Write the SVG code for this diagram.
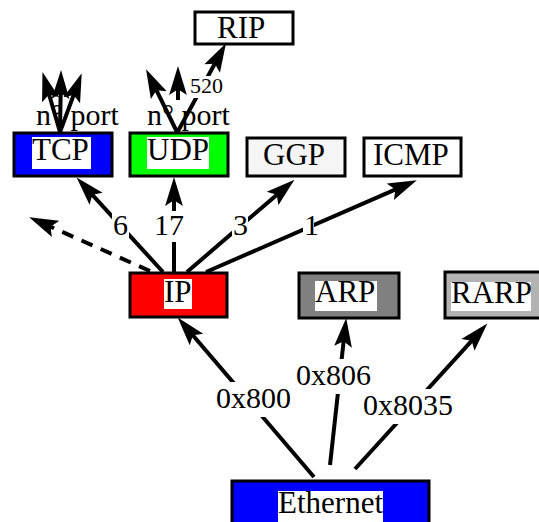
<svg xmlns="http://www.w3.org/2000/svg" width="539" height="522" viewBox="0 0 539 522">
<defs>
<style>
.box{stroke:#000;stroke-width:3}
.tbg{fill:#fff}
.nl{font-family:"Liberation Serif","Times New Roman",serif;font-size:31px;fill:#000}
.el{font-family:"Liberation Serif","Times New Roman",serif;font-size:30px;fill:#000}
.e{stroke:#000;stroke-width:4;fill:none;marker-end:url(#ah)}
.d{stroke-dasharray:12 9}
</style>
<marker id="ah" markerUnits="userSpaceOnUse" markerWidth="30" markerHeight="20" viewBox="0 -9 27 18" refX="8" refY="0" orient="auto">
<path d="M0,-8 L26,0 L0,8 L5,0 z" fill="#000"/>
</marker>
</defs>
<rect width="539" height="522" fill="#fff"/>
<g id="RIP"><rect class="box" x="195" y="12" width="98" height="32" fill="#fff"/><text class="nl" x="217" y="38">RIP</text></g>
<g id="TCP"><rect class="box" x="14" y="133" width="98" height="43" fill="#0000ff"/><rect class="tbg" x="32" y="137" width="59" height="32"/><text class="nl" x="32" y="160">TCP</text></g>
<g id="UDP"><rect class="box" x="130" y="133" width="98" height="43" fill="#00ff00"/><rect class="tbg" x="147" y="137" width="62" height="32"/><text class="nl" x="147" y="160">UDP</text></g>
<g id="GGP"><rect class="box" x="247" y="138" width="98" height="38" fill="#f5f5f5"/><text class="nl" x="263" y="165">GGP</text></g>
<g id="ICMP"><rect class="box" x="364" y="138" width="97" height="38" fill="#fff"/><text class="nl" x="373" y="165">ICMP</text></g>
<g id="IP"><rect class="box" x="130" y="273" width="97" height="44" fill="#ff0000"/><rect class="tbg" x="164" y="279" width="28" height="30"/><text class="nl" x="164" y="302">IP</text></g>
<g id="ARP"><rect class="box" x="299" y="273" width="100" height="45" fill="#808080"/><rect class="tbg" x="315" y="281" width="62" height="30"/><text class="nl" x="315" y="302">ARP</text></g>
<g id="RARP"><rect class="box" x="445" y="272" width="100" height="46" fill="#b3b3b3"/><rect class="tbg" x="451" y="282" width="80" height="29"/><text class="nl" x="451" y="303">RARP</text></g>
<g id="Ethernet"><rect class="box" x="232" y="481" width="197" height="50" fill="#0000ff"/><rect class="tbg" x="278" y="491" width="105" height="40"/><text class="nl" x="278" y="513">Ethernet</text></g>
<g id="connectors">
<path class="e" d="M163,272 L90.1,192.3"/>
<path class="e" d="M174,272 L174,197"/>
<path class="e" d="M187,272 L279.3,192.7"/>
<path class="e" d="M206,272 L398.5,188.2"/>
<path class="e d" d="M150,271 L47.4,225.3"/>
<path class="e" d="M314,477 L190.7,332.7"/>
<path class="e" d="M330,465 L344,337.9"/>
<path class="e" d="M355,469 L473.9,338.3"/>
<rect class="tbg" x="112" y="211" width="17" height="31"/><text class="el" x="113" y="235">6</text>
<rect class="tbg" x="153" y="211" width="30" height="31"/><text class="el" x="154" y="235">17</text>
<rect class="tbg" x="232" y="211" width="16" height="31"/><text class="el" x="233" y="235">3</text>
<rect class="tbg" x="303" y="211" width="11" height="31"/><text class="el" x="304" y="235">1</text>
<rect class="tbg" x="215" y="382" width="78" height="35"/><text class="el" x="216" y="408">0x800</text>
<rect class="tbg" x="295" y="359" width="78" height="35"/><text class="el" x="296" y="385">0x806</text>
<rect class="tbg" x="362" y="389" width="92" height="35"/><text class="el" x="363" y="415">0x8035</text>
<text class="el" x="36" y="125">n° port</text>
<path class="e" d="M60,132 L48.1,91.3"/>
<path class="e" d="M60,132 L60.7,90"/>
<path class="e" d="M60,132 L74.8,91.9"/>
<path class="e" d="M178,100 L178,86"/>
<rect class="tbg" x="146" y="100" width="86" height="31"/><text class="el" x="147" y="125">n° port</text>
<path class="e" d="M177,132 L154.9,87.2"/>
<path class="e" d="M177,133 L216.4,60.8"/>
<rect class="tbg" x="189" y="76" width="34" height="22"/><text class="el" x="190" y="93" style="font-size:22px">520</text>
</g>
</svg>
